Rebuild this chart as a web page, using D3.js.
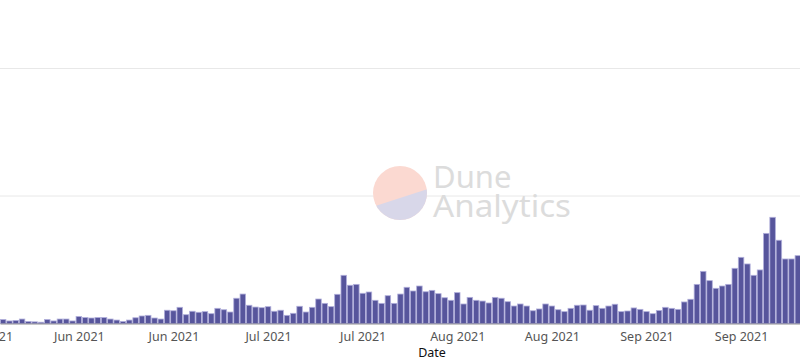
<!DOCTYPE html>
<html>
<head>
<meta charset="utf-8">
<script src="https://cdn.jsdelivr.net/npm/d3@7"></script>
<style>
  body { margin: 0; background: #fff; }
  svg { display: block; font-family: "Noto Sans", "Open Sans", sans-serif; }
</style>
</head>
<body>
<svg id="chart" width="800" height="364"></svg>
<script>
// daily values, first bar = 2021-05-24
var startDate = '2021-05-24';
var values = [
  3.1, 2.0, 2.4, 3.5, 1.6, 1.3, 1.0, 3.1, 2.0, 3.5,
  3.5, 2.0, 5.5, 4.7, 4.3, 4.7, 4.7, 3.5, 2.7, 1.6,
  2.7, 4.5, 5.9, 6.4, 4.3, 3.5, 10.4, 10.0, 12.7, 6.9,
  9.6, 8.8, 9.3, 7.7, 11.9, 10.8, 9.0, 19.8, 23.1, 14.3,
  12.9, 12.4, 13.2, 9.6, 10.4, 6.4, 8.0, 13.5, 9.0, 12.7,
  19.2, 15.8, 13.2, 22.9, 37.8, 30.0, 30.7, 23.7, 24.7, 18.2,
  15.8, 21.8, 15.8, 23.1, 28.4, 25.5, 29.4, 24.9, 26.0, 23.4,
  20.2, 18.2, 24.2, 15.3, 20.5, 18.2, 17.6, 16.1, 20.5, 19.8,
  17.1, 13.7, 15.3, 13.7, 10.0, 11.4, 15.3, 13.7, 10.8, 9.3,
  11.9, 14.3, 14.5, 10.4, 14.0, 11.9, 13.7, 15.1, 9.3, 9.8,
  12.2, 11.1, 9.3, 7.7, 10.2, 12.7, 11.9, 11.1, 16.9, 19.0,
  30.7, 40.9, 33.6, 27.6, 29.4, 30.7, 43.3, 51.9, 46.7, 37.8,
  42.0, 70.7, 83.3, 65.3, 50.6, 50.6, 53.2
];
var tickDates = ['2021-05-21', '2021-06-05', '2021-06-20', '2021-07-05', '2021-07-20',
  '2021-08-04', '2021-08-19', '2021-09-03', '2021-09-18'];
var gridValues = [100, 200];

var parse = d3.timeParse('%Y-%m-%d');
var svg = d3.select('#chart');
var pitch = 6.307;
var baseY = 323.5;

var start = parse(startDate);
var data = values.map(function (v, i) {
  return { date: d3.timeDay.offset(start, i), value: v };
});

var x = d3.scaleTime()
  .domain([start, d3.timeDay.offset(start, values.length)])
  .range([0, values.length * pitch]);

var y = d3.scaleLinear().domain([0, 200]).range([baseY, 68.5]);

// gridlines
svg.append('g').selectAll('line')
  .data(gridValues)
  .join('line')
  .attr('x1', 0).attr('x2', 800)
  .attr('y1', function (d) { return y(d); })
  .attr('y2', function (d) { return y(d); })
  .attr('stroke', '#e8e8e8')
  .attr('stroke-width', 1);

// watermark
var wm = svg.append('g').attr('opacity', 1);
var cx = 400, cy = 193, r = 27;
wm.append('clipPath').attr('id', 'wmclip')
  .append('circle').attr('cx', cx).attr('cy', cy).attr('r', r);
wm.append('circle').attr('cx', cx).attr('cy', cy).attr('r', r).attr('fill', '#fbd9d1');
wm.append('path')
  .attr('clip-path', 'url(#wmclip)')
  .attr('d', 'M' + (cx - 40) + ',' + (cy + 18) + ' L' + (cx + 40) + ',' + (cy - 8) + ' L' + (cx + 40) + ',' + (cy + 40) + ' L' + (cx - 40) + ',' + (cy + 40) + 'Z')
  .attr('fill', '#d8d7e9');
wm.append('text').attr('x', 433).attr('y', 188)
  .attr('font-size', 31).attr('fill', '#dcdcdc').text('Dune');
wm.append('text').attr('x', 433).attr('y', 217)
  .attr('font-size', 31).attr('fill', '#dcdcdc')
  .attr('textLength', 138).attr('lengthAdjust', 'spacingAndGlyphs')
  .text('Analytics');

// bars
svg.append('g').selectAll('rect')
  .data(data)
  .join('rect')
  .attr('x', function (d) { return x(d.date) + 0.4; })
  .attr('y', function (d) { return y(d.value); })
  .attr('width', pitch - 0.8)
  .attr('height', function (d) { return baseY - y(d.value); })
  .attr('fill', '#57559c')
  .attr('stroke', '#b1afdb')
  .attr('stroke-width', 0.8);

// axis
var xAxis = d3.axisBottom(x)
  .tickValues(tickDates.map(function (t) { return d3.timeHour.offset(parse(t), 12); }))
  .tickFormat(d3.timeFormat('%b %Y'))
  .tickSize(0)
  .tickPadding(9);

var ax = svg.append('g')
  .attr('transform', 'translate(0,' + baseY + ')')
  .call(xAxis);
ax.select('.domain').attr('stroke', '#444').attr('stroke-width', 0.6);
ax.selectAll('text').attr('font-size', 12.5).attr('fill', '#555')
  .attr('font-family', '"Noto Sans", sans-serif');

svg.append('text')
  .attr('x', 432).attr('y', 357)
  .attr('text-anchor', 'middle')
  .attr('font-size', 12.5)
  .attr('fill', '#111')
  .text('Date');
</script>
</body>
</html>
